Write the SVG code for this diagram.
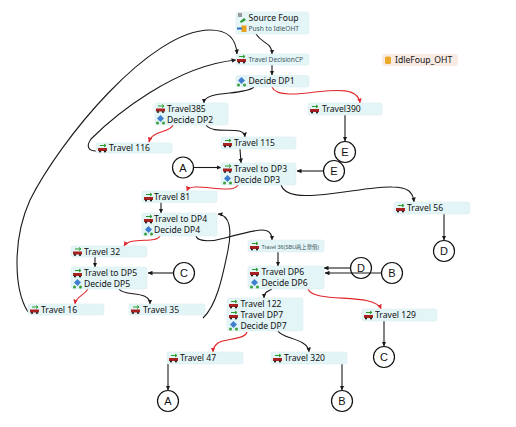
<svg xmlns="http://www.w3.org/2000/svg" width="516" height="427" viewBox="0 0 516 427">
<style>
.n{fill:#e4f5f7;stroke:#dcedf0;stroke-width:.6}
.t{font:8.6px "Noto Sans","Liberation Sans","Noto Sans CJK SC",sans-serif;fill:#111}
.s{font:6.6px "Noto Sans","Liberation Sans","Noto Sans CJK SC",sans-serif;fill:#3d5560}
.c{fill:#fff;stroke:#111;stroke-width:1.2}
.l{font:11px "Liberation Sans",Arial,sans-serif;fill:#111;text-anchor:middle}
.k{fill:none;stroke:#1a1a1a;stroke-width:1.1;marker-end:url(#ak)}
.r{fill:none;stroke:#e0262a;stroke-width:1.1;marker-end:url(#ar)}
</style>
<defs>
<marker id="ak" markerWidth="5" markerHeight="5" refX="4.500" refY="2.500" orient="auto" markerUnits="userSpaceOnUse"><path d="M0 .3L5 2.500L0 4.700z" fill="#1a1a1a"/></marker>
<marker id="ar" markerWidth="5" markerHeight="5" refX="4.500" refY="2.500" orient="auto" markerUnits="userSpaceOnUse"><path d="M0 .3L5 2.500L0 4.700z" fill="#e0262a"/></marker>
<g id="it"><path d="M2 1.500H7.500M6 0L8 1.500L6 3" fill="none" stroke="#2a9a2a" stroke-width="1"/><rect x="0" y="4" width="9" height="3" fill="#a82020"/><circle cx="2" cy="7.500" r="1.100" fill="#222"/><circle cx="7" cy="7.500" r="1.100" fill="#222"/></g>
<g id="id"><path d="M4.500 0L8 3.500L4.500 7L1 3.500z" fill="#3f7fd0"/><circle cx="1.500" cy="8" r="1.500" fill="#3aa03a"/><circle cx="7.500" cy="8" r="1.500" fill="#3aa03a"/></g>
</defs>
<rect width="516" height="427" fill="#fff"/>
<g id="connectors">
<path class="k" d="M256 34C262 44 272 42 272 54"/>
<path class="k" d="M272 65V75"/>
<path class="k" d="M254 87C244 96 204 90 204 103"/>
<path class="r" d="M272 87C276 97 300 94 315 92C335 90 358 87 360 103"/>
<path class="k" d="M345 115V141"/>
<path class="k" d="M206 125C214 136 244 124 245 137"/>
<path class="r" d="M173 125C170 133 152 130 149 142"/>
<path class="k" d="M240 149L241 163"/>
<path class="k" d="M194 167.500H221"/>
<path class="k" d="M323 171H297"/>
<path class="r" d="M238 185C232 196 190 180 187 191"/>
<path class="k" d="M281 185C285 197 305 196 318 195C345 193 375 186 392 187C408 187 413 192 414 202"/>
<path class="k" d="M161 202V213"/>
<path class="k" d="M196 236C198 243 215 241 225 238C240 234 255 230 262 230C270 230 272 235 272 240"/>
<path class="r" d="M160 236C156 244 130 236 124 246"/>
<path class="k" d="M95 257V267"/>
<path class="k" d="M173 273H148"/>
<path class="r" d="M88 289C84 296 76 296 75 304"/>
<path class="k" d="M119 289C124 297 150 290 150 304"/>
<path class="k" d="M203 318C216 306 222 280 228 250C232 230 230 215 218 214"/>
<path class="k" d="M278 252V266"/>
<path class="k" d="M350 268H324"/>
<path class="k" d="M381 273H325"/>
<path class="r" d="M308 289C314 304 375 292 381 309"/>
<path class="k" d="M272 289C266 292 264 293 264 298"/>
<path class="r" d="M247 332C245 340 225 338 218 343C214 346 213 349 213 352"/>
<path class="k" d="M278 331C282 339 308 338 309 352"/>
<path class="k" d="M384 321V346"/>
<path class="k" d="M444 214V240"/>
<path class="k" d="M168 364V390"/>
<path class="k" d="M342 364V390"/>
<path class="k" d="M28 312C14 290 12 240 30 200C60 140 150 30 210 30C228 30 236 38 237 54"/>
<path class="k" d="M96 151C88 151 86 146 91 139C115 115 175 66 236 60"/>
</g>
<g id="source"><rect class="n" x="236" y="12" width="73" height="22" rx="2"/><rect x="238" y="13" width="4" height="4" fill="#999"/><path d="M240 21.500L244 18L246 20L241 23z" fill="#2a9a2a"/><rect x="241.500" y="25.500" width="5" height="6.500" fill="#e8a020"/><path d="M237 28.500H242" stroke="#2b6fc0" stroke-width="2"/><text class="t" x="248.500" y="21">Source Foup</text><text class="s" x="248.500" y="31">Push to IdleOHT</text></g>
<g id="travel-decisioncp"><rect class="n" x="236" y="54" width="73" height="11" rx="2"/><use href="#it" x="237" y="55"/><text class="s" x="248.500" y="62">Travel DecisionCP</text></g>
<g id="decide-dp1"><rect class="n" x="236" y="75.500" width="73" height="11.500" rx="2"/><use href="#id" x="237" y="77"/><text class="t" x="248.500" y="84">Decide DP1</text></g>
<g id="dp2"><rect class="n" x="155" y="103" width="73" height="22" rx="2"/><use href="#it" x="156" y="104.500"/><use href="#id" x="156" y="115"/><text class="t" x="167" y="112">Travel385</text><text class="t" x="167" y="122.500">Decide DP2</text></g>
<g id="travel390"><rect class="n" x="308" y="103" width="74" height="12" rx="2"/><use href="#it" x="310" y="105"/><text class="t" x="322" y="112">Travel390</text></g>
<g id="travel115"><rect class="n" x="221" y="137" width="75" height="12" rx="2"/><use href="#it" x="223" y="139"/><text class="t" x="234" y="146">Travel 115</text></g>
<g id="travel116"><rect class="n" x="96" y="143" width="76" height="10" rx="2"/><use href="#it" x="98" y="144"/><text class="t" x="109" y="151">Travel 116</text></g>
<g id="dp3"><rect class="n" x="221" y="163" width="75" height="22" rx="2"/><use href="#it" x="223" y="164.500"/><use href="#id" x="223" y="175"/><text class="t" x="234" y="171.500">Travel to DP3</text><text class="t" x="234" y="182.500">Decide DP3</text></g>
<g id="travel81"><rect class="n" x="142" y="191" width="75" height="11.500" rx="2"/><use href="#it" x="144" y="193"/><text class="t" x="154" y="200">Travel 81</text></g>
<g id="dp4"><rect class="n" x="142" y="213" width="75" height="23" rx="2"/><use href="#it" x="144" y="215"/><use href="#id" x="144" y="226"/><text class="t" x="154" y="222">Travel to DP4</text><text class="t" x="154" y="233">Decide DP4</text></g>
<g id="travel32"><rect class="n" x="71" y="246" width="76" height="11" rx="2"/><use href="#it" x="73" y="247.500"/><text class="t" x="84" y="254.500">Travel 32</text></g>
<g id="dp5"><rect class="n" x="71" y="267" width="76" height="22" rx="2"/><use href="#it" x="73" y="269"/><use href="#id" x="73" y="279"/><text class="t" x="84" y="275.500">Travel to DP5</text><text class="t" x="84" y="286.500">Decide DP5</text></g>
<g id="travel16"><rect class="n" x="28" y="304" width="76" height="11" rx="2"/><use href="#it" x="30" y="305.500"/><text class="t" x="41" y="312.500">Travel 16</text></g>
<g id="travel35"><rect class="n" x="129" y="304" width="76" height="11" rx="2"/><use href="#it" x="131" y="305.500"/><text class="t" x="143" y="312.500">Travel 35</text></g>
<g id="travel36"><rect class="n" x="248" y="240" width="76" height="12" rx="2"/><use href="#it" x="250" y="242"/><text x="261.500" y="248.500" style="font:5.300px 'Liberation Sans','Noto Sans CJK SC',sans-serif;fill:#3d5560">Travel 36(SBU两上舉借)</text></g>
<g id="dp6"><rect class="n" x="248" y="266" width="76" height="23" rx="2"/><use href="#it" x="250" y="268"/><use href="#id" x="250" y="279"/><text class="t" x="261.500" y="275">Travel DP6</text><text class="t" x="261.500" y="286">Decide DP6</text></g>
<g id="dp7"><rect class="n" x="227" y="298" width="76" height="33" rx="2"/><use href="#it" x="229" y="300"/><use href="#it" x="229" y="311"/><use href="#id" x="229" y="321"/><text class="t" x="240.500" y="306.500">Travel 122</text><text class="t" x="240.500" y="317.500">Travel DP7</text><text class="t" x="240.500" y="328.500">Decide DP7</text></g>
<g id="travel129"><rect class="n" x="362" y="309" width="75" height="12" rx="2"/><use href="#it" x="364" y="311"/><text class="t" x="375" y="318">Travel 129</text></g>
<g id="travel47"><rect class="n" x="167" y="352" width="76" height="12" rx="2"/><use href="#it" x="169" y="354"/><text class="t" x="180" y="361">Travel 47</text></g>
<g id="travel320"><rect class="n" x="271" y="352" width="76" height="12" rx="2"/><use href="#it" x="273" y="354"/><text class="t" x="284" y="361">Travel 320</text></g>
<g id="travel56"><rect class="n" x="394" y="202" width="76" height="12" rx="2"/><use href="#it" x="396" y="204"/><text class="t" x="407" y="211">Travel 56</text></g>
<g id="idlefoup"><rect x="382" y="54" width="76" height="12" rx="3" fill="#f9ebe3"/><rect x="385" y="56.500" width="6" height="7.500" rx="1.500" fill="#eaa92a"/><text class="t" x="395" y="63">IdleFoup_OHT</text></g>
<g id="conn-a1"><circle class="c" cx="183" cy="167.500" r="10.500"/><text class="l" x="183" y="171.500">A</text></g>
<g id="conn-e1"><circle class="c" cx="345" cy="152" r="10.500"/><text class="l" x="345" y="156">E</text></g>
<g id="conn-e2"><circle class="c" cx="334" cy="171" r="10.500"/><text class="l" x="334" y="175">E</text></g>
<g id="conn-d1"><circle class="c" cx="444" cy="251" r="10.500"/><text class="l" x="444" y="255">D</text></g>
<g id="conn-c1"><circle class="c" cx="184" cy="273" r="10.500"/><text class="l" x="184" y="277">C</text></g>
<g id="conn-b1"><circle class="c" cx="392" cy="273" r="10.500"/><text class="l" x="392" y="277">B</text></g>
<g id="conn-d2"><circle class="c" cx="361" cy="268" r="10.500" style="fill:none"/><text class="l" x="361" y="272">D</text></g>
<g id="conn-c2"><circle class="c" cx="384" cy="357" r="10.500"/><text class="l" x="384" y="361">C</text></g>
<g id="conn-a2"><circle class="c" cx="168" cy="401" r="10.500"/><text class="l" x="168" y="405">A</text></g>
<g id="conn-b2"><circle class="c" cx="342" cy="401" r="10.500"/><text class="l" x="342" y="405">B</text></g>
</svg>
